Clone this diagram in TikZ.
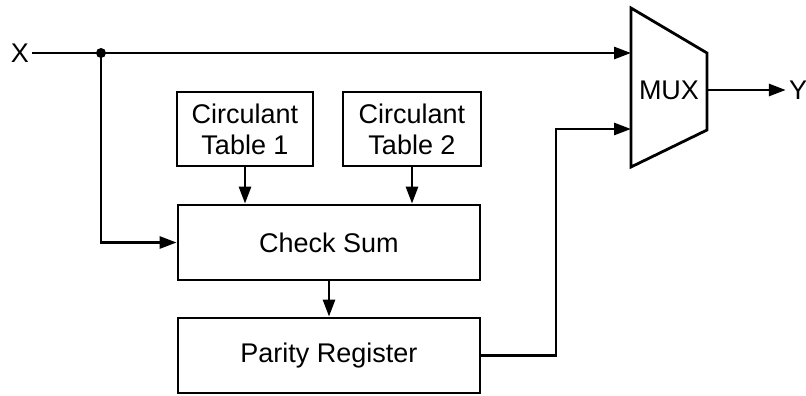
\documentclass[tikz,border=0pt]{standalone}
\usepackage{fontspec}
\setmainfont{Liberation Sans}
\usetikzlibrary{arrows.meta}
\begin{document}
\begin{tikzpicture}[x=1pt,y=-1pt,
  wire/.style={line width=2.8pt},
  arr/.style={wire,-{Triangle[length=17pt,width=12pt]}},
  blk/.style={draw,line width=2.8pt,rectangle,align=center,font=\fontsize{27}{31}\selectfont,inner sep=0pt},
  lbl/.style={font=\fontsize{27}{31}\selectfont,inner sep=3pt}]
\useasboundingbox (0,0) rectangle (806,396);
% blocks
\node[blk,minimum width=136pt,minimum height=74pt] (ct1) at (245,129) {Circulant\\Table 1};
\node[blk,minimum width=138pt,minimum height=74pt] (ct2) at (412,129) {Circulant\\Table 2};
\node[blk,minimum width=302pt,minimum height=75pt] (cs) at (329,242.5) {Check Sum};
\node[blk,minimum width=302pt,minimum height=75pt] (pr) at (329,355.5) {Parity Register};
% MUX
\coordinate (m1) at (631,8);
\coordinate (m2) at (707,53);
\coordinate (m3) at (707,130);
\coordinate (m4) at (631,167);
\draw[wire,line join=miter] (m1) -- (m2) -- (m3) -- (m4) -- cycle;
\node[lbl] (mux) at (669,90) {MUX};
\coordinate (in1) at (631,53);
\coordinate (in2) at (631,129);
\coordinate (out) at (707,90);
% labels
\node[lbl] (X) at (20,53) {X};
\node[lbl] (Y) at (798,90) {Y};
% connectors
\coordinate (j) at (101,53);
\draw[arr] (X.east) -- (in1);
\fill (j) circle (5pt);
\draw[arr] (j) |- (cs.west);
\draw[arr] (ct1.south) -- (ct1.south |- cs.north);
\draw[arr] (ct2.south) -- (ct2.south |- cs.north);
\draw[arr] (cs.south) -- (pr.north);
\coordinate (bend) at (556,129);
\draw[arr] (pr.east) -| (bend) -- (in2);
\draw[arr] (out) -- (Y.west);
\end{tikzpicture}
\end{document}
